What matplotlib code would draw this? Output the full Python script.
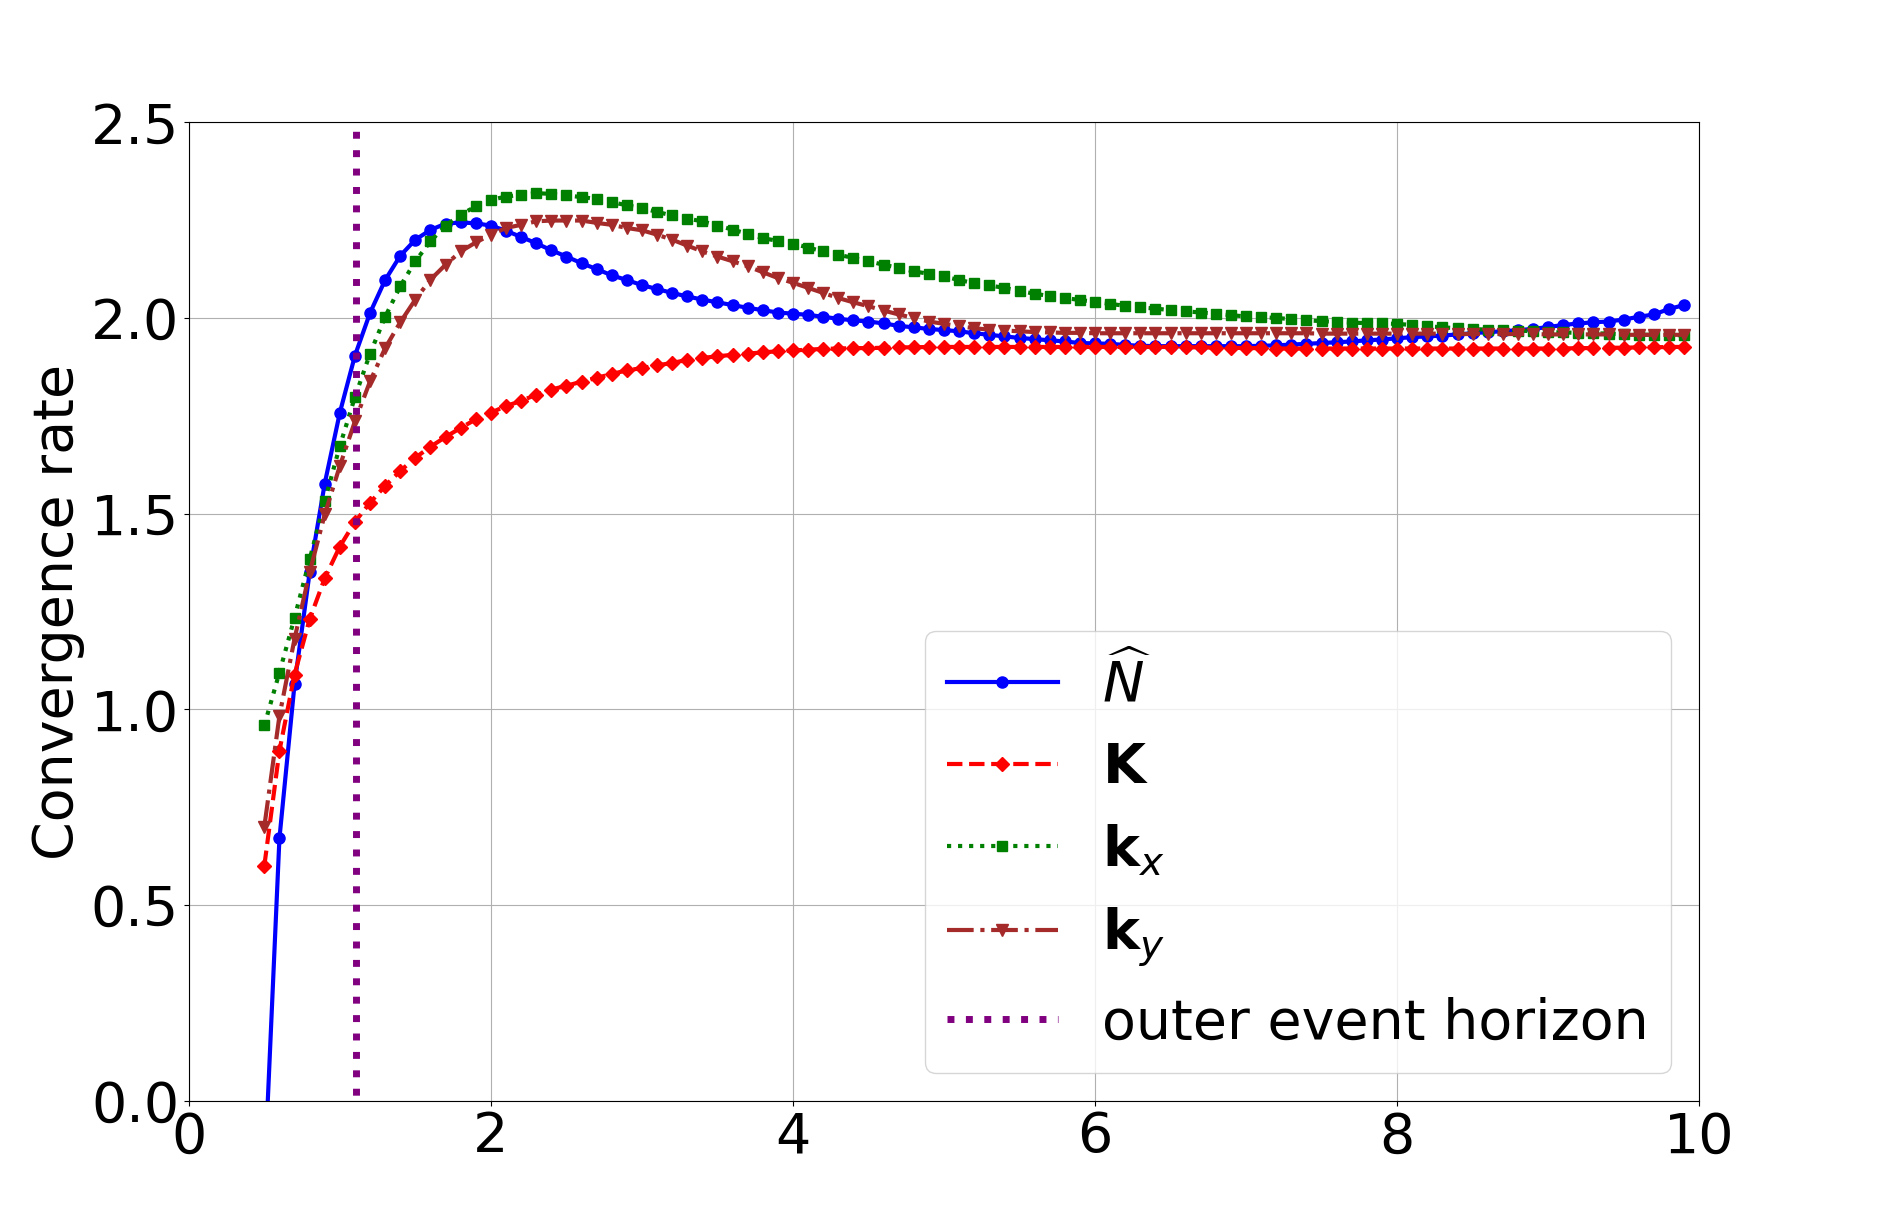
import matplotlib
matplotlib.use('Agg')
import matplotlib.pyplot as plt
import numpy as np

plt.rcParams['font.size'] = 40

# sample radii 0.5 ... 9.9
r = np.arange(5, 100) / 10

n_hat = [-0.2, 0.67, 1.064, 1.35, 1.577, 1.758, 1.904, 2.013, 2.097, 2.159,
         2.200, 2.225, 2.241, 2.244, 2.242, 2.236, 2.223, 2.207, 2.191, 2.173,
         2.157, 2.140, 2.125, 2.109, 2.097, 2.084, 2.074, 2.064, 2.055, 2.047,
         2.040, 2.033, 2.026, 2.020, 2.014, 2.011, 2.008, 2.003, 1.998, 1.994,
         1.991, 1.986, 1.980, 1.976, 1.972, 1.969, 1.966, 1.961, 1.957, 1.953,
         1.949, 1.946, 1.943, 1.940, 1.936, 1.935, 1.934, 1.931, 1.929, 1.928,
         1.928, 1.928, 1.928, 1.928, 1.928, 1.928, 1.929, 1.930, 1.932, 1.934,
         1.936, 1.938, 1.940, 1.943, 1.945, 1.948, 1.951, 1.953, 1.955, 1.958,
         1.961, 1.964, 1.966, 1.969, 1.972, 1.977, 1.982, 1.986, 1.989, 1.991,
         1.996, 2.003, 2.009, 2.023, 2.033]

K = [0.60, 0.894, 1.089, 1.23, 1.335, 1.416, 1.479, 1.528, 1.571, 1.609,
     1.643, 1.671, 1.696, 1.719, 1.741, 1.758, 1.775, 1.788, 1.804, 1.817,
     1.827, 1.837, 1.847, 1.857, 1.866, 1.872, 1.879, 1.885, 1.893, 1.898,
     1.902, 1.906, 1.909, 1.912, 1.915, 1.917, 1.919, 1.921, 1.922, 1.923,
     1.923, 1.924, 1.925, 1.925, 1.926, 1.926, 1.926, 1.926, 1.926, 1.926,
     1.926, 1.926, 1.926, 1.926, 1.926, 1.926, 1.926, 1.926, 1.926, 1.926,
     1.926, 1.925, 1.925, 1.924, 1.924, 1.923, 1.923, 1.922, 1.922, 1.922,
     1.922, 1.922, 1.922, 1.922, 1.922, 1.922, 1.922, 1.922, 1.922, 1.922,
     1.922, 1.922, 1.922, 1.922, 1.922, 1.922, 1.922, 1.923, 1.923, 1.924,
     1.924, 1.925, 1.925, 1.926, 1.926]

kx = [0.959, 1.094, 1.234, 1.383, 1.532, 1.673, 1.798, 1.909, 2.003, 2.081,
      2.145, 2.196, 2.236, 2.264, 2.285, 2.302, 2.310, 2.315, 2.319, 2.317,
      2.313, 2.309, 2.304, 2.296, 2.288, 2.281, 2.271, 2.262, 2.254, 2.247,
      2.236, 2.226, 2.215, 2.204, 2.197, 2.190, 2.180, 2.170, 2.162, 2.153,
      2.145, 2.136, 2.128, 2.119, 2.113, 2.106, 2.097, 2.089, 2.083, 2.077,
      2.069, 2.062, 2.056, 2.051, 2.046, 2.041, 2.036, 2.031, 2.027, 2.024,
      2.020, 2.017, 2.014, 2.011, 2.007, 2.004, 2.002, 2.000, 1.997, 1.994,
      1.992, 1.990, 1.988, 1.987, 1.986, 1.985, 1.982, 1.979, 1.976, 1.974,
      1.972, 1.970, 1.969, 1.968, 1.966, 1.964, 1.963, 1.962, 1.961, 1.960,
      1.958, 1.957, 1.957, 1.956, 1.956]

ky = [0.70, 0.983, 1.18, 1.35, 1.498, 1.622, 1.736, 1.838, 1.923, 1.989,
      2.047, 2.098, 2.136, 2.170, 2.193, 2.213, 2.230, 2.238, 2.247, 2.249,
      2.249, 2.249, 2.243, 2.238, 2.230, 2.224, 2.213, 2.200, 2.185, 2.170,
      2.157, 2.145, 2.132, 2.117, 2.102, 2.090, 2.077, 2.064, 2.051, 2.040,
      2.030, 2.019, 2.009, 2.000, 1.991, 1.985, 1.979, 1.974, 1.970, 1.968,
      1.966, 1.964, 1.963, 1.962, 1.962, 1.961, 1.961, 1.961, 1.961, 1.961,
      1.961, 1.961, 1.961, 1.961, 1.961, 1.961, 1.961, 1.961, 1.961, 1.961,
      1.960, 1.960, 1.960, 1.960, 1.960, 1.960, 1.960, 1.960, 1.960, 1.959,
      1.959, 1.959, 1.959, 1.959, 1.959, 1.958, 1.958, 1.958, 1.958, 1.958,
      1.957, 1.957, 1.957, 1.957, 1.957]

r_horizon = 1.11

fig = plt.figure(figsize=(18.88, 12.23), dpi=100)
ax = fig.add_axes([0.1, 0.1, 0.8, 0.8])

ax.plot(r, n_hat, color='blue', linestyle='-', marker='o', lw=3, ms=8, label=r'$\widehat{N}$')
ax.plot(r, K, color='red', linestyle='--', marker='D', lw=3, ms=7, label=r'$\mathbf{K}$')
ax.plot(r, kx, color='green', linestyle=':', marker='s', lw=3, ms=7, label=r'$\mathbf{k}_x$')
ax.plot(r, ky, color='brown', linestyle='-.', marker='v', lw=3, ms=8, label=r'$\mathbf{k}_y$')
# line drawn from below the visible range, so the dot pattern starts off-axes
ax.vlines(r_horizon, -0.5, 2.5, colors='purple', linestyles=':', lw=5, label='outer event horizon')

ax.set_xlim(0, 10)
ax.set_ylim(0, 2.5)
ax.set_ylabel('Convergence rate')
ax.grid()
ax.legend(loc='lower right')

fig.savefig('out.png', dpi=100)
